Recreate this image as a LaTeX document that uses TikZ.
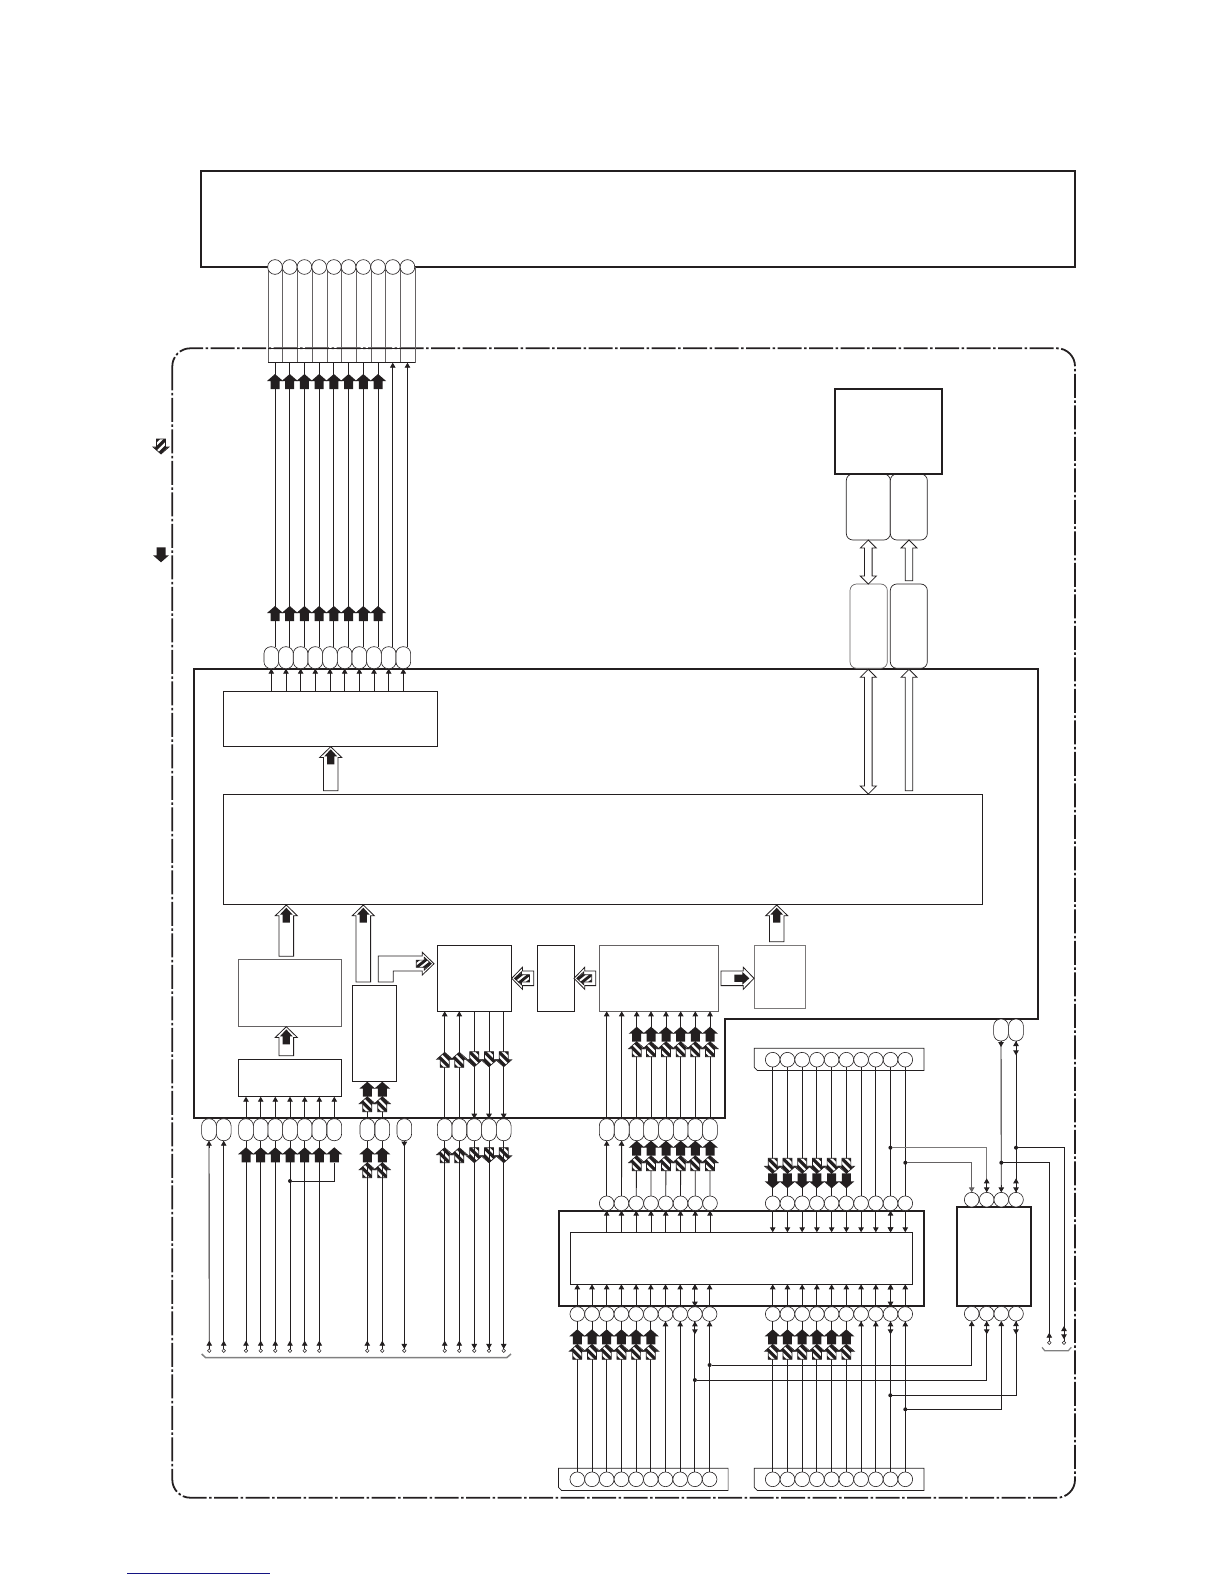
\documentclass[tikz,border=0pt]{standalone}
\usetikzlibrary{arrows.meta,shapes.geometric}
\definecolor{inkBlack}{RGB}{35,31,32}
\definecolor{linkBlue}{RGB}{20,20,130}
\tikzset{
    block/.style={rectangle,draw=inkBlack,line width=0.9pt,fill=white,inner sep=0pt,outer sep=0pt},
    ic/.style={block,line width=2pt},
    softbox/.style={block,line width=0.7pt,rounded corners=6.5pt},
    pin/.style={circle,draw=inkBlack,line width=0.6pt,fill=white,minimum size=14.7pt,inner sep=0pt,outer sep=0pt},
    oval/.style={rectangle,rounded corners=7pt,draw=inkBlack,line width=0.6pt,fill=white,
        minimum width=14.7pt,minimum height=22pt,inner sep=0pt,outer sep=0pt},
    term/.style={circle,draw=inkBlack,line width=0.5pt,fill=white,minimum size=3.6pt,inner sep=0pt,outer sep=0pt},
    jdot/.style={circle,fill=inkBlack,minimum size=4pt,inner sep=0pt,outer sep=0pt},
    wire/.style={draw=inkBlack,line width=0.9pt},
    sarr/.style={wire,-{Triangle[length=5pt,width=5.5pt]}},
    dsarr/.style={wire,{Triangle[length=5pt,width=5.5pt]}-{Triangle[length=5pt,width=5.5pt]}},
    busline/.style={draw=inkBlack,line width=0.8pt,fill=white},
    pics/blackarr/.style={code={
        \fill[inkBlack] (0,0)--(8,7)--(4.5,7)--(4.5,15)--(-4.5,15)--(-4.5,7)--(-8,7)--cycle;}},
    pics/hatcharr/.style={code={
        \begin{scope}
            \clip (0,0)--(8,7)--(4.5,7)--(4.5,15)--(-4.5,15)--(-4.5,7)--(-8,7)--cycle;
            \fill[white] (-9,-1) rectangle (9,16);
            \foreach \s in {-16,-8,...,24}
                \fill[inkBlack] (-10,\s-10)--(10,\s+10)--(10,\s+14.5)--(-10,\s-5.5)--cycle;
        \end{scope}
        \draw[inkBlack,line width=0.7pt] (0,0)--(8,7)--(4.5,7)--(4.5,15)--(-4.5,15)--(-4.5,7)--(-8,7)--cycle;}},
    pics/busarr/.style={code={
        \draw[busline] (0,0)--(11,10.7)--(7.3,10.7)--(7.3,#1)--(-7.3,#1)--(-7.3,10.7)--(-11,10.7)--cycle;}},
    pics/thinbus/.style={code={
        \draw[busline] (0,0)--(8,8)--(3.8,8)--(3.8,#1)--(-3.8,#1)--(-3.8,8)--(-8,8)--cycle;}},
    pics/thindbl/.style={code={
        \draw[busline] (0,0)--(8,8)--(3.8,8)--(3.8,#1-8)--(8,#1-8)--(0,#1)--(-8,#1-8)--(-3.8,#1-8)--(-3.8,8)--(-8,8)--cycle;}},
    pics/plug/.style={code={
        \draw[inkBlack,line width=0.7pt,fill=white] (0,0)--(169.6,0)--(169.6,22.2)--(3,22.2)--(0,19)--cycle;}}
}
\begin{document}
\begin{tikzpicture}[x=1pt,y=-1pt]
    \useasboundingbox (0,0) rectangle (1224,1584);
    % outer frame and legend
    \draw[inkBlack,line width=1.8pt,dash pattern=on 24pt off 2.5pt on 2.5pt off 2.5pt,rounded corners=18pt]
        (172.3,348.3) rectangle (1075,1497.7);
    \pic[rotate=180,xscale=-1] at (161,454) {hatcharr};
    \pic[rotate=180] at (161,562.3) {blackarr};
    \draw[linkBlue,line width=0.8pt] (127,1573.5) -- (270,1573.5);

    % top unit and its flat cable
    \node[ic,minimum width=874pt,minimum height=95.7pt] (topunit) at (638,218.85) {};
    \foreach \k [evaluate=\k as \x using 268+14.73*\k] in {0,...,10}
        \draw[inkBlack!70,line width=0.7pt] (\x,267) -- (\x,362.7);
    \draw[inkBlack,line width=0.6pt] (268,362.7) -- (415.3,362.7);
    \draw[inkBlack,line width=0.7pt] (268,348.3) -- (415.3,348.3);
    \foreach \i [evaluate=\i as \x using 275+14.72*(\i-1)] in {1,...,10} {
        \node[pin] (ct\i) at (\x,267) {};
        \coordinate (cb\i) at (\x,362.7);
    }

    % main board
    \draw[inkBlack,line width=2pt] (194,668.7) -- (1038.3,668.7) -- (1038.3,1019) -- (725,1019)
        -- (725,1118.3) -- (194,1118.3) -- cycle;
    \node[block,minimum width=214pt,minimum height=54.7pt] (drv) at (330.3,718.65) {};
    \node[block,minimum width=759.3pt,minimum height=110pt] (core) at (602.95,849.3) {};
    \node[block,draw=inkBlack!70,minimum width=103.4pt,minimum height=66.7pt] (conv) at (290,992.65) {};
    \node[block,minimum width=103.4pt,minimum height=37.4pt] (recv) at (290,1078) {};
    \node[block,minimum width=44.4pt,minimum height=96.4pt] (tuner) at (374.5,1033.5) {};
    \node[block,minimum width=74.4pt,minimum height=66pt] (hblk) at (474.5,978.3) {};
    \node[block,minimum width=37.4pt,minimum height=66pt] (iblk) at (556,978.3) {};
    \node[block,draw=inkBlack!70,minimum width=119.4pt,minimum height=66pt] (jblk) at (659,978.3) {};
    \node[block,draw=inkBlack!60,minimum width=51.4pt,minimum height=63pt] (kblk) at (780,976.8) {};

    % memory column
    \node[softbox,minimum width=44pt,minimum height=66pt] (mema) at (868.3,507) {};
    \node[softbox,minimum width=37pt,minimum height=66pt] (memb) at (908.8,507) {};
    \node[softbox,draw=inkBlack!70,minimum width=37.3pt,minimum height=84.3pt] (busa) at (868.65,626.15) {};
    \node[softbox,minimum width=37pt,minimum height=84.3pt] (busb) at (908.8,626.15) {};
    \node[ic,minimum width=107.3pt,minimum height=85pt] (store) at (888.65,431.5) {};
    \pic at (868.3,540) {thindbl=44};
    \pic at (909,540) {thinbus=40.7};
    \pic at (868.3,669.3) {thindbl=124.7};
    \pic at (909,669.3) {thinbus=121.4};

    % ovals on the main board
    \foreach \i [evaluate=\i as \x using 271.3+14.67*(\i-1)] in {1,...,10}
        \node[oval] (tp\i) at (\x,657.7) {};
    \foreach \i/\x in {1/209,2/223.7,3/246,4/260.7,5/275.3,6/290,7/304.7,8/319.3,9/334.3,10/367.3,
        11/382.3,12/404.3,13/444.7,14/459.3,15/474.3,16/489,17/503.7,18/606.7,19/621.7,20/636.7,
        21/651,22/666,23/680.7,24/695.3,25/710}
        \node[oval] (bo\i) at (\x,1129.7) {};
    \node[oval] (ri1) at (1001,1030) {};
    \node[oval] (ri2) at (1016,1030) {};

    % cable down to the board
    \foreach \i in {1,...,8}
        \draw[wire] (cb\i) -- (cb\i |- tp\i.north);
    \foreach \i in {9,10}
        \draw[sarr] (cb\i |- tp\i.north) -- (cb\i);
    \foreach \i [evaluate=\i as \x using 275+14.72*(\i-1)] in {1,...,8} {
        \pic at (\x,374) {blackarr};
        \pic at (\x,606) {blackarr};
    }
    \foreach \i in {1,...,10}
        \draw[sarr] (tp\i |- drv.north) -- (tp\i.south);

    % inner buses
    \pic at (330.7,746.7) {busarr=44};
    \pic[xscale=.8] at (330.7,749.3) {blackarr};
    \pic at (286.3,905) {busarr=51.3};
    \pic[xscale=.8] at (286.3,907.7) {blackarr};
    \pic at (363.3,905) {busarr=77};
    \pic[xscale=.8] at (363.3,907.7) {blackarr};
    \pic at (286.3,1026.7) {busarr=29};
    \pic[xscale=.8] at (286.3,1029.4) {blackarr};
    \draw[busline] (378.3,982)--(378.3,956)--(422.3,956)--(422.3,952.3)--(434,963.7)--(422.3,975)
        --(422.3,971)--(393.3,971)--(393.3,982)--cycle;
    \pic[rotate=-90,xscale=.8] at (431.3,963.7) {hatcharr};
    \pic[rotate=90] at (511.7,978.3) {busarr=22};
    \pic[rotate=90,xscale=.8] at (514.4,978.3) {hatcharr};
    \pic[rotate=90] at (574,978.3) {busarr=21.7};
    \pic[rotate=90,xscale=.8] at (576.7,978.3) {hatcharr};
    \pic[rotate=-90] at (754,978.3) {busarr=33};
    \pic[rotate=-90,xscale=.8] at (749.3,978.3) {blackarr};
    \pic at (776.7,905) {busarr=36.7};
    \pic[xscale=.8] at (776.7,907.7) {blackarr};

    % lower edge of the main board
    \foreach \i in {3,...,9}
        \draw[sarr] (bo\i.north) -- (bo\i |- recv.south);
    \foreach \i in {10,11}
        \draw[wire] (bo\i.north) -- (bo\i |- tuner.south);
    \foreach \i in {13,14,18,19,20,21,22,23,24,25}
        \draw[sarr] (bo\i.north) -- (bo\i |- hblk.south);
    \foreach \i in {15,16,17}
        \draw[sarr] (bo\i |- hblk.south) -- (bo\i.north);
    \foreach \x in {367.3,382.3} {
        \pic at (\x,1081.7) {blackarr};
        \pic at (\x,1096.7) {hatcharr};
        \pic at (\x,1147.3) {blackarr};
        \pic at (\x,1162.7) {hatcharr};
    }
    \foreach \x in {444.7,459.3} {
        \pic at (\x,1052.3) {hatcharr};
        \pic at (\x,1147.7) {hatcharr};
    }
    \foreach \x in {474.3,489,503.7} {
        \pic[rotate=180] at (\x,1066.7) {hatcharr};
        \pic[rotate=180] at (\x,1162.7) {hatcharr};
    }

    % terminals along the lower edge
    \foreach \i/\x in {1/209.3,2/223.7,3/246,4/260.7,5/275.3,6/290,7/304.7,8/319.3,10/367.3,
        11/382.3,12/404.3,13/444.7,14/459.3,15/474.3,16/489,17/503.7} {
        \node[term] (tm\i) at (\x,1350.7) {};
        \draw[wire] (bo\i.south) -- (tm\i);
    }
    \foreach \i in {1,2,3,4,5,6,7,8,10,11,13,14}
        \draw[sarr] (tm\i) -- ++(0,-10);
    \foreach \i in {12,15,16,17}
        \draw[sarr] (tm\i) ++(0,-9) -- (tm\i);
    \foreach \i in {1,2}
        \draw[sarr] (bo\i.south) ++(0,7) -- (bo\i.south);
    \draw[sarr] (bo12.south) -- ++(0,6);
    \draw[gray,line width=1.5pt] (201.7,1354) -- (205.7,1357.7) -- (506.7,1357.7) -- (511,1354);
    \node[jdot] (jsw) at (290,1181) {};
    \coordinate (sw9) at (334.3,1162.7);
    \draw[wire] (sw9) |- (jsw);
    \foreach \x in {246,260.7,275.3,290,304.7,319.3,334.3}
        \pic at (\x,1147.3) {blackarr};

    % lower board with its connectors
    \node[ic,minimum width=365.6pt,minimum height=95.6pt] (bord) at (741.5,1258.5) {};
    \node[block,minimum width=342pt,minimum height=52pt] (inner) at (741.7,1258.3) {};
    \pic at (754.3,1048.3) {plug};
    \pic at (558.5,1468.3) {plug};
    \pic at (754.3,1468.3) {plug};
    \foreach \i [evaluate=\i as \x using 606.7+14.76*(\i-1)] in {1,...,8}
        \node[pin] (up\i) at (\x,1203.3) {};
    \foreach \i [evaluate=\i as \x using 772.7+14.73*(\i-1)] in {1,...,10} {
        \node[pin] (cu\i) at (\x,1059.7) {};
        \node[pin] (ur\i) at (\x,1203.3) {};
        \node[pin] (dr\i) at (\x,1314) {};
        \node[pin] (fr\i) at (\x,1479.3) {};
    }
    \foreach \i [evaluate=\i as \x using 577.3+14.7*(\i-1)] in {1,...,10} {
        \node[pin] (dl\i) at (\x,1314) {};
        \node[pin] (fl\i) at (\x,1479.3) {};
    }
    \foreach \i [count=\j from 18] in {1,...,8}
        \draw[wire] (up\i.north) -- (bo\j.south);
    \foreach \i in {1,...,8}
        \draw[sarr] (up\i |- inner.north) -- (up\i.south);
    \draw[sarr] (up1.north) ++(0,-50) -- (bo18.south);
    \draw[sarr] (up2.north) ++(0,-50) -- (bo19.south);
    \foreach \x in {636.7,651,666,680.7,695.3,710} {
        \pic at (\x,1026.7) {blackarr};
        \pic at (\x,1041.7) {hatcharr};
        \pic at (\x,1140.7) {blackarr};
        \pic at (\x,1155.7) {hatcharr};
    }
    \foreach \i in {1,...,10} {
        \draw[wire] (cu\i.south) -- (ur\i.north);
        \draw[sarr] (ur\i.south) -- (ur\i |- inner.north);
        \draw[sarr] (dr\i.north) -- (dr\i |- inner.south);
        \draw[sarr] (dl\i.north) -- (dl\i |- inner.south);
        \draw[wire] (dr\i.south) -- (fr\i.north);
        \draw[wire] (dl\i.south) -- (fl\i.north);
    }
    \draw[dsarr] (ur9.south) -- (ur9 |- inner.north);
    \draw[dsarr] (dr9.north) -- (dr9 |- inner.south);
    \draw[dsarr] (dl9.north) -- (dl9 |- inner.south);
    \foreach \i [evaluate=\i as \x using 772.7+14.73*(\i-1)] in {1,...,6} {
        \pic[rotate=180] at (\x,1173.3) {hatcharr};
        \pic[rotate=180] at (\x,1188.3) {blackarr};
        \pic at (\x,1329.3) {blackarr};
        \pic at (\x,1344.3) {hatcharr};
    }
    \foreach \i [evaluate=\i as \x using 577.3+14.7*(\i-1)] in {1,...,6} {
        \pic at (\x,1329.3) {blackarr};
        \pic at (\x,1344.3) {hatcharr};
    }
    \foreach \i in {7,8,10} {
        \draw[sarr] (dl\i.south) ++(0,7) -- (dl\i.south);
        \draw[sarr] (dr\i.south) ++(0,7) -- (dr\i.south);
    }
    \draw[dsarr] (dl9.south) -- ++(0,13);
    \draw[dsarr] (dr9.south) -- ++(0,13);

    % small ic on the right
    \node[ic,minimum width=74pt,minimum height=99.3pt] (swic) at (994,1256.35) {};
    \foreach \i/\x in {1/971.7,2/986.7,3/1001.3,4/1016} {
        \node[pin] (nt\i) at (\x,1199.7) {};
        \node[pin] (nb\i) at (\x,1313.7) {};
    }
    \node[jdot] (ja1) at (890.4,1147.7) {};
    \node[jdot] (ja2) at (905.3,1162.7) {};
    \node[jdot] (jb1) at (1016,1147.7) {};
    \node[jdot] (jb2) at (1001.3,1162.7) {};
    \draw[sarr,draw=inkBlack!70] (ja2) -| (nt1.north);
    \draw[wire,draw=inkBlack!60] (ja1) -| (nt2.north);
    \draw[dsarr] (nt2.north) ++(0,-14) -- (nt2.north);
    \draw[sarr] (ri1.south) -- (nt3.north);
    \draw[sarr] (ri1.south) -- ++(0,6);
    \draw[wire] (ri2.south) -- (nt4.north);
    \draw[dsarr] (ri2.south) -- ++(0,14.3);
    \draw[dsarr] (nt4.north) ++(0,-14) -- (nt4.north);
    \node[term] (tx1) at (1049.3,1342.7) {};
    \node[term] (tx2) at (1064,1342.7) {};
    \draw[wire] (jb2) -| (tx1);
    \draw[wire] (jb1) -| (tx2);
    \draw[sarr] (tx1) -- ++(0,-10);
    \draw[dsarr] (tx2) ++(0,-16.7) -- ++(0,13.3);
    \draw[gray,line width=1.2pt] (1042,1347.3) -- (1044.7,1350.7) -- (1068.3,1350.7) -- (1071.3,1347.3);

    % branches below the lower board
    \node[jdot] (jc1) at (709.6,1365) {};
    \node[jdot] (jc2) at (694.9,1380) {};
    \node[jdot] (jc3) at (905.3,1409.3) {};
    \node[jdot] (jc4) at (890.3,1395.3) {};
    \draw[sarr] (jc1) -| (nb1.south);
    \draw[wire] (jc2) -| (nb2.south);
    \draw[sarr] (jc3) -| (nb3.south);
    \draw[wire] (jc4) -| (nb4.south);
    \draw[dsarr] (nb2.south) -- ++(0,13.3);
    \draw[dsarr] (nb4.south) -- ++(0,13.3);
\end{tikzpicture}
\end{document}
